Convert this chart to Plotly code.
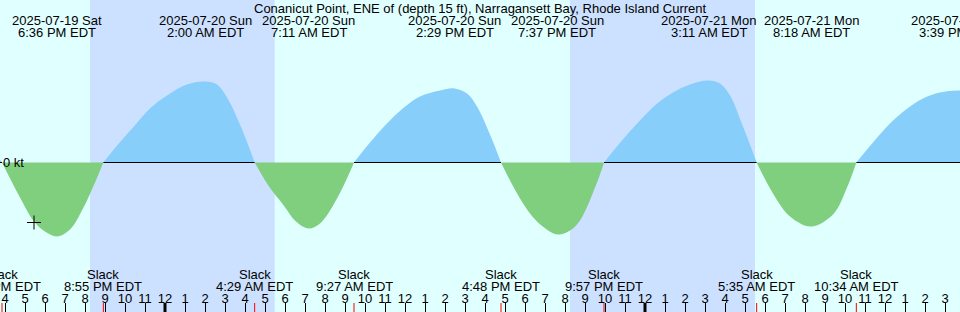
import plotly.graph_objects as go
import pandas as pd

# ---------------- data ----------------
title_text = "Conanicut Point, ENE of (depth 15 ft), Narragansett Bay, Rhode Island Current"

# current speed samples (knots, + = flood, - = ebb); slack points have value 0
times = [
    "2025-07-19 15:30", "2025-07-19 15:51", "2025-07-19 16:45", "2025-07-19 17:27", "2025-07-19 18:00",
    "2025-07-19 18:36", "2025-07-19 19:15", "2025-07-19 19:54", "2025-07-19 20:30", "2025-07-19 20:55",
    "2025-07-19 21:39", "2025-07-19 22:24", "2025-07-19 23:15", "2025-07-20 00:06", "2025-07-20 01:06",
    "2025-07-20 02:00", "2025-07-20 02:36", "2025-07-20 03:06", "2025-07-20 03:45", "2025-07-20 04:29",
    "2025-07-20 05:12", "2025-07-20 05:54", "2025-07-20 06:33", "2025-07-20 07:11", "2025-07-20 07:45",
    "2025-07-20 08:36", "2025-07-20 09:27", "2025-07-20 10:15", "2025-07-20 11:06", "2025-07-20 11:57",
    "2025-07-20 12:45", "2025-07-20 13:45", "2025-07-20 14:29", "2025-07-20 15:06", "2025-07-20 15:36",
    "2025-07-20 16:15", "2025-07-20 16:48", "2025-07-20 17:45", "2025-07-20 18:36", "2025-07-20 19:37",
    "2025-07-20 20:15", "2025-07-20 20:45", "2025-07-20 21:36", "2025-07-20 21:57", "2025-07-20 22:51",
    "2025-07-20 23:45", "2025-07-21 00:33", "2025-07-21 01:24", "2025-07-21 02:15", "2025-07-21 03:11",
    "2025-07-21 03:45", "2025-07-21 04:15", "2025-07-21 04:54", "2025-07-21 05:35", "2025-07-21 06:24",
    "2025-07-21 07:15", "2025-07-21 08:18", "2025-07-21 09:24", "2025-07-21 10:06", "2025-07-21 10:34",
    "2025-07-21 11:24", "2025-07-21 12:15", "2025-07-21 13:03", "2025-07-21 13:54", "2025-07-21 14:45",
    "2025-07-21 15:39", "2025-07-21 16:30",
]
speed_kt = [
    0.20, 0.00, -0.70, -1.18, -1.38,
    -1.48, -1.34, -0.92, -0.40, 0.00,
    0.36, 0.70, 1.08, 1.34, 1.56,
    1.62, 1.56, 1.30, 0.76, 0.00,
    -0.48, -0.84, -1.18, -1.32, -1.22,
    -0.72, 0.00, 0.40, 0.78, 1.10,
    1.32, 1.44, 1.48, 1.38, 1.12,
    0.56, 0.00, -0.72, -1.18, -1.44,
    -1.36, -1.16, -0.40, 0.00, 0.44,
    0.84, 1.16, 1.40, 1.56, 1.64,
    1.58, 1.34, 0.72, 0.00, -0.62,
    -1.08, -1.28, -1.04, -0.50, 0.00,
    0.40, 0.78, 1.06, 1.28, 1.40,
    1.44, 1.40,
]

# max flood / max ebb events (top labels)
peak_times = ["2025-07-19 18:36", "2025-07-20 02:00", "2025-07-20 07:11", "2025-07-20 14:29",
              "2025-07-20 19:37", "2025-07-21 03:11", "2025-07-21 08:18", "2025-07-21 15:39"]
peak_dates = ["2025-07-19 Sat", "2025-07-20 Sun", "2025-07-20 Sun", "2025-07-20 Sun",
              "2025-07-20 Sun", "2025-07-21 Mon", "2025-07-21 Mon", "2025-07-21 Mon"]
peak_labels = ["6:36 PM EDT", "2:00 AM EDT", "7:11 AM EDT", "2:29 PM EDT",
               "7:37 PM EDT", "3:11 AM EDT", "8:18 AM EDT", "3:39 PM EDT"]

# slack events (bottom labels)
slack_times = ["2025-07-19 15:51", "2025-07-19 20:55", "2025-07-20 04:29", "2025-07-20 09:27",
               "2025-07-20 16:48", "2025-07-20 21:57", "2025-07-21 05:35", "2025-07-21 10:34"]
slack_labels = ["3:51 PM EDT", "8:55 PM EDT", "4:29 AM EDT", "9:27 AM EDT",
                "4:48 PM EDT", "9:57 PM EDT", "5:35 AM EDT", "10:34 AM EDT"]

# night periods (sunset, sunrise)
night_start = ["2025-07-19 20:15", "2025-07-20 20:15"]
night_end = ["2025-07-20 05:29", "2025-07-21 05:30"]

# "now" marker
now_time = ["2025-07-19 17:27"]
now_value = [-1.20]

x_start, x_end = "2025-07-19 15:45", "2025-07-21 15:45"
y_min, y_max = -2.99, 3.25

hour_ticks = pd.date_range("2025-07-19 16:00", "2025-07-21 15:00", freq="h")
hour_text = [str((t.hour % 12) or 12) for t in hour_ticks]
midnights = ["2025-07-20 00:00", "2025-07-21 00:00"]

# ---------------- style ----------------
FONT = "Liberation Sans"
FS = 13
DAY = "#e0ffff"
NIGHT = "#cce0ff"
FLOOD = "#87cefa"
EBB = "#7fcf7f"

fig = go.Figure()

# split series into flood / ebb segments at slack points
segments = []
cur = []
for t, v in zip(times, speed_kt):
    cur.append((t, v))
    if v == 0 and len(cur) > 1:
        segments.append(cur)
        cur = [(t, v)]
if len(cur) > 1:
    segments.append(cur)

flood_segs = [s for s in segments if max(v for _, v in s) > 0]
ebb_segs = [s for s in segments if min(v for _, v in s) < 0]

for s in flood_segs:
    fig.add_trace(go.Scatter(x=[p[0] for p in s], y=[p[1] for p in s], mode="lines",
                             line=dict(color=FLOOD, width=0, shape="spline", smoothing=1.0),
                             fill="tozeroy", fillcolor=FLOOD, hoverinfo="skip", showlegend=False))

# zero line, visible under flood periods only
zx, zy = [], []
for s in flood_segs:
    zx += [s[0][0], s[-1][0], None]
    zy += [0, 0, None]
fig.add_trace(go.Scatter(x=zx, y=zy, mode="lines", line=dict(color="black", width=1),
                         hoverinfo="skip", showlegend=False))

for s in ebb_segs:
    fig.add_trace(go.Scatter(x=[p[0] for p in s], y=[p[1] for p in s], mode="lines",
                             line=dict(color=EBB, width=0, shape="spline", smoothing=1.0),
                             fill="tozeroy", fillcolor=EBB, hoverinfo="skip", showlegend=False))

fig.add_trace(go.Scatter(x=now_time, y=now_value, mode="markers",
                         marker=dict(symbol="cross-thin", size=10, line=dict(color="black", width=1)),
                         hoverinfo="skip", showlegend=False))

shapes = []
for a, b in zip(night_start, night_end):
    shapes.append(dict(type="rect", xref="x", yref="paper", x0=a, x1=b, y0=0, y1=1,
                       fillcolor=NIGHT, line=dict(width=0), layer="below"))
for m in midnights:
    shapes.append(dict(type="line", xref="x", yref="paper", x0=m, x1=m, y0=0, y1=9 / 312,
                       line=dict(color="black", width=3), layer="above"))
for s in slack_times:
    shapes.append(dict(type="line", xref="x", yref="paper", x0=s, x1=s, y0=0, y1=9 / 312,
                       line=dict(color="red", width=1), layer="above"))

ann = []
ann.append(dict(text=title_text, xref="paper", yref="paper", x=0.5, y=1, yshift=1,
                xanchor="center", yanchor="top", showarrow=False, font=dict(size=FS)))
for t, d, l in zip(peak_times, peak_dates, peak_labels):
    ann.append(dict(text=d, xref="x", yref="paper", x=t, y=1, yshift=-11, xanchor="center",
                    yanchor="top", showarrow=False, font=dict(size=FS)))
    ann.append(dict(text=l, xref="x", yref="paper", x=t, y=1, yshift=-23, xanchor="center",
                    yanchor="top", showarrow=False, font=dict(size=FS)))
for t, l in zip(slack_times, slack_labels):
    ann.append(dict(text="Slack", xref="x", yref="paper", x=t, y=0, yshift=28, xanchor="center",
                    yanchor="bottom", showarrow=False, font=dict(size=FS)))
    ann.append(dict(text=l, xref="x", yref="paper", x=t, y=0, yshift=16, xanchor="center",
                    yanchor="bottom", showarrow=False, font=dict(size=FS)))
ann.append(dict(text="0 kt", xref="paper", yref="y", x=0, y=0, xshift=1, xanchor="left",
                yanchor="middle", showarrow=False, font=dict(size=FS)))

fig.update_layout(
    width=960, height=312, margin=dict(l=0, r=0, t=0, b=0),
    paper_bgcolor=DAY, plot_bgcolor=DAY,
    font=dict(family=FONT, size=FS, color="black"),
    shapes=shapes, annotations=ann, showlegend=False,
    xaxis=dict(type="date", range=[x_start, x_end], showgrid=False, zeroline=False, showline=False,
               tickmode="array", tickvals=hour_ticks, ticktext=hour_text,
               ticks="inside", ticklen=9, tickwidth=1, tickcolor="black",
               ticklabelposition="inside", ticklabelstandoff=-3,
               tickfont=dict(size=FS, color="black")),
    yaxis=dict(range=[y_min, y_max], visible=False, showgrid=False, zeroline=False),
)

fig.write_html("out.html")
